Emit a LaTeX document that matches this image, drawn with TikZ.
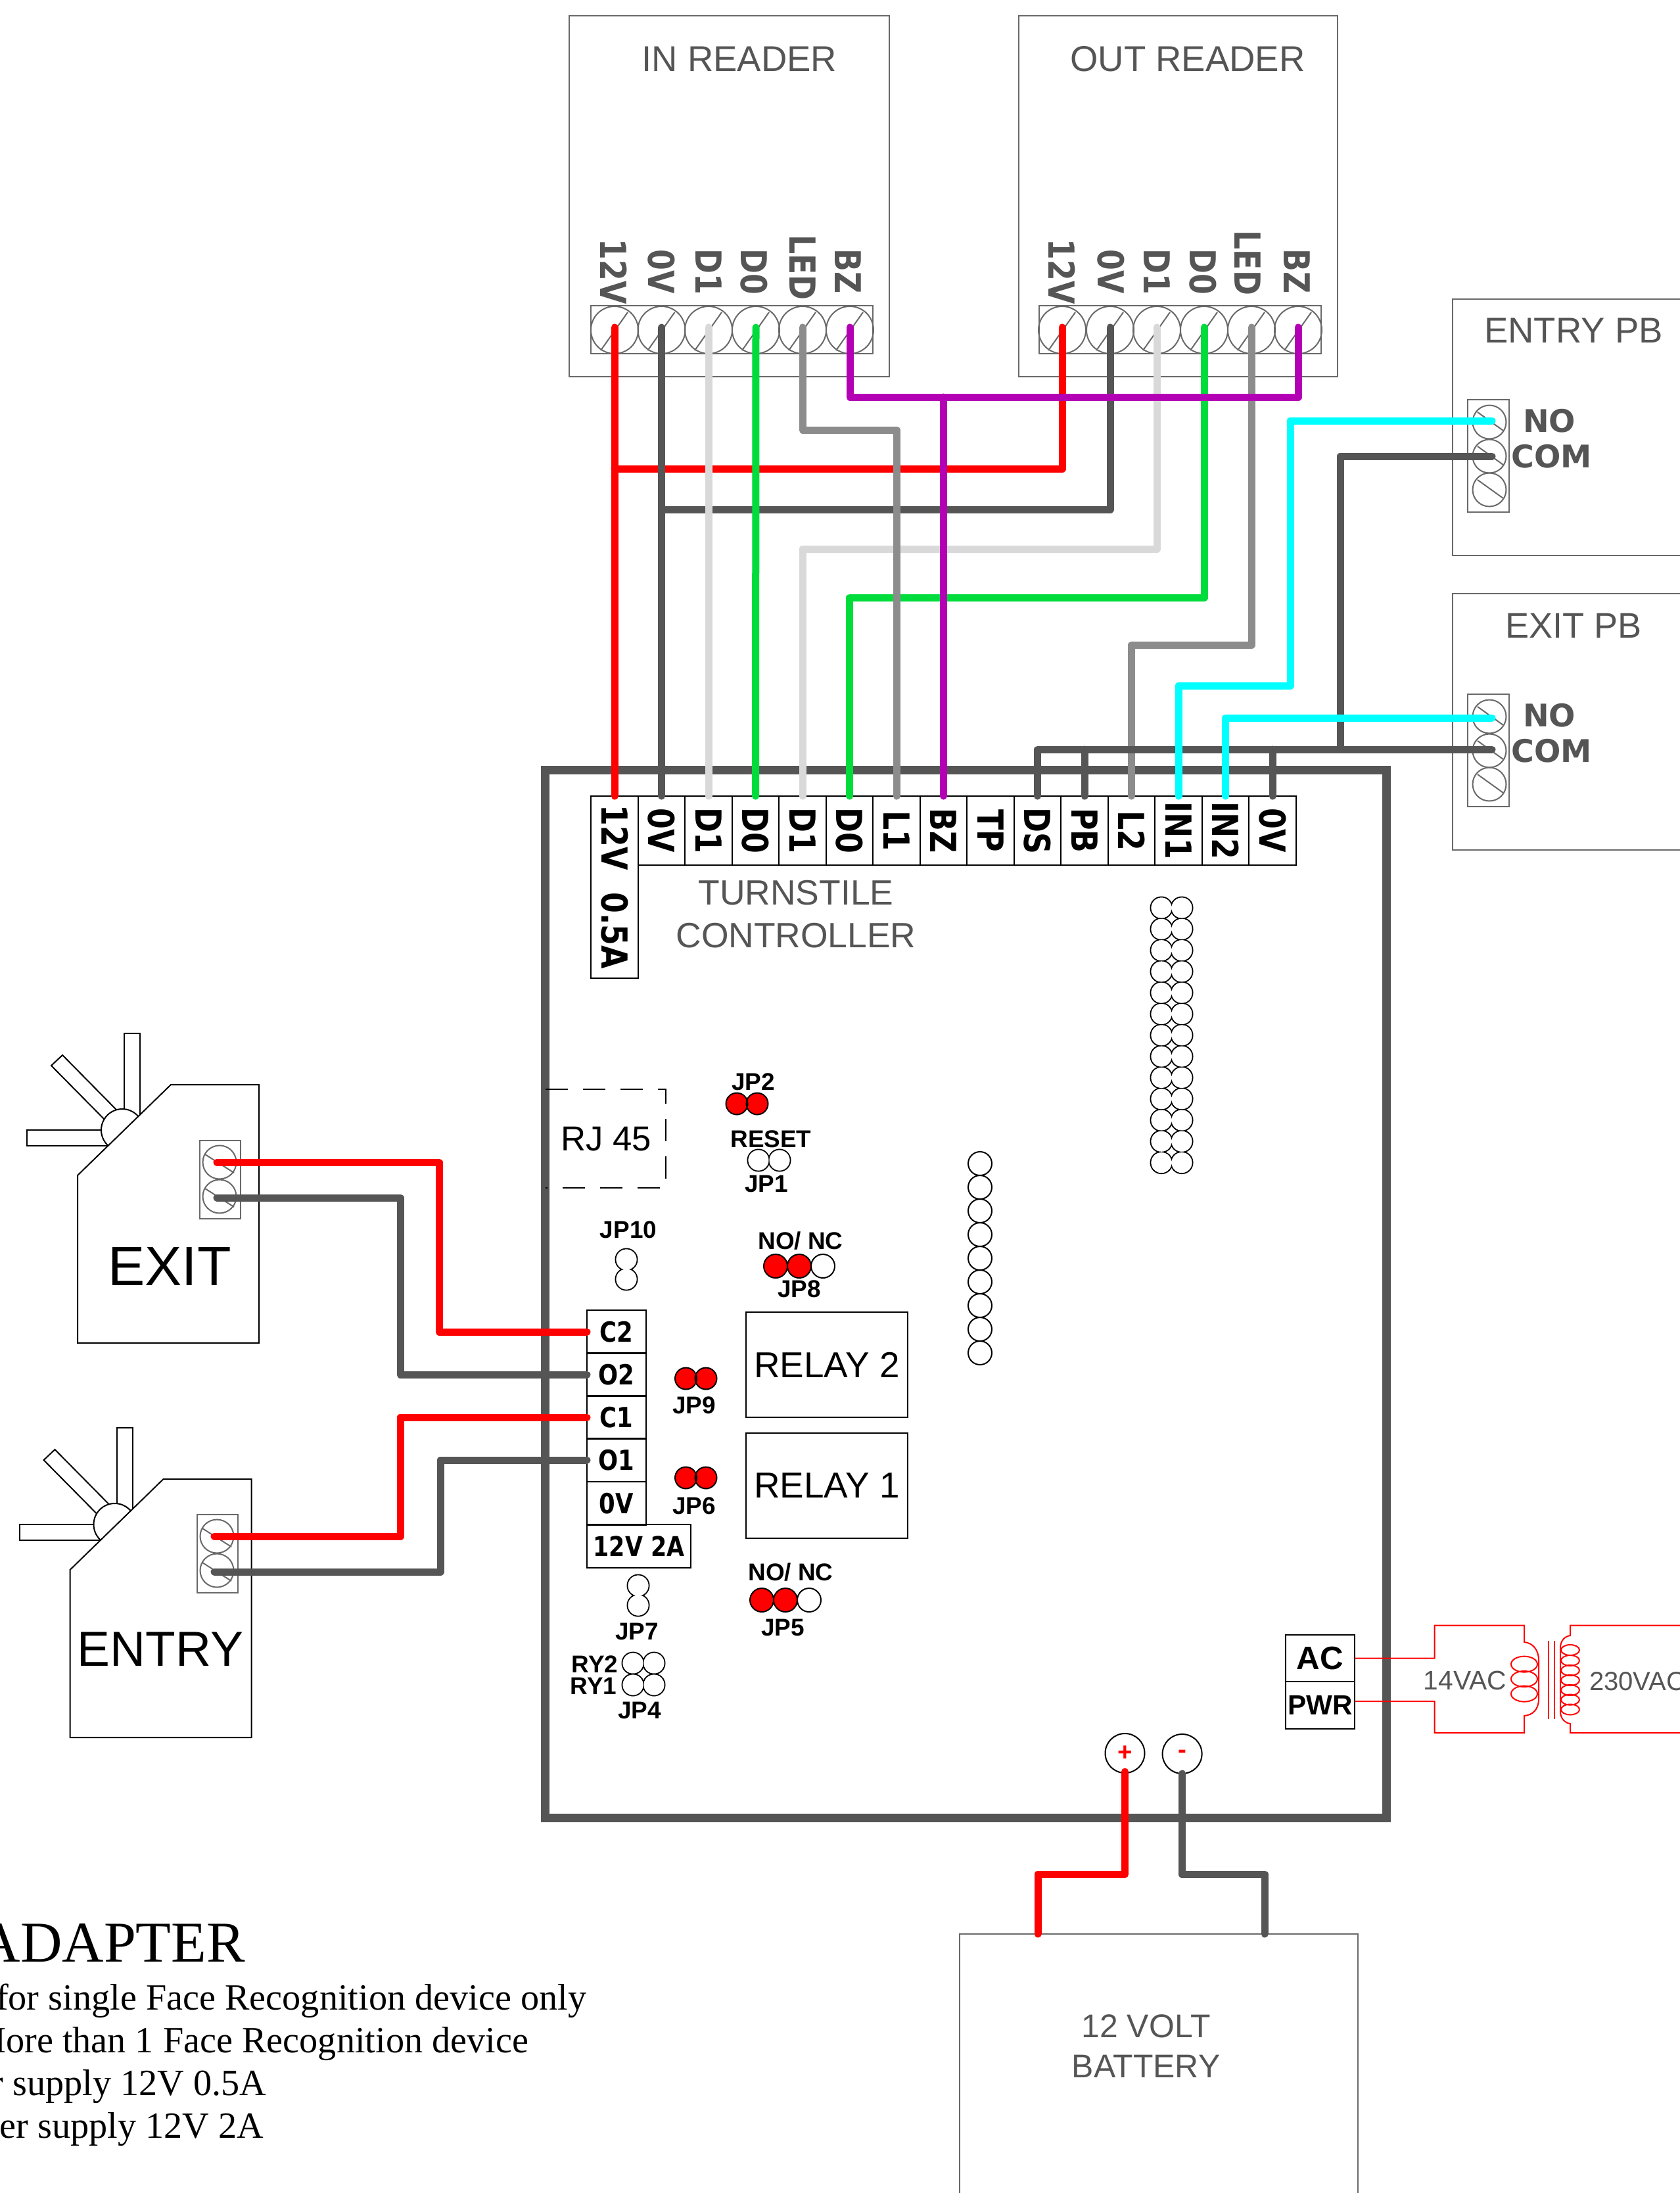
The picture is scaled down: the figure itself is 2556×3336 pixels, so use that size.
\documentclass[tikz,border=0pt]{standalone}
\usepackage{fontspec}
\setmainfont{Liberation Sans}
\newfontfamily\serifface{Liberation Serif}
\newfontfamily\termface{DejaVu Sans}[FakeStretch=0.84]
\newfontfamily\wideface{DejaVu Sans}
\usetikzlibrary{positioning, calc}
\definecolor{WireRed}{RGB}{255, 0, 0}
\definecolor{WireDark}{RGB}{85, 85, 85}
\definecolor{WireLight}{RGB}{217, 217, 217}
\definecolor{WireGreen}{RGB}{0, 220, 60}
\definecolor{WireMid}{RGB}{140, 140, 140}
\definecolor{WirePurple}{RGB}{180, 0, 180}
\definecolor{WireCyan}{RGB}{0, 255, 255}
\definecolor{BoxGray}{RGB}{105, 105, 105}
\newcommand{\pt}[1]{\fontsize{#1}{#1}\selectfont}
\newcommand{\pinpair}[4]{%
  \draw[pinline] (#1,#2) circle (16.5) (#3,#4) circle (16.5);
  \fill[white] (#1,#2) circle (15.5) (#3,#4) circle (15.5);}
\tikzset{
  every node/.style={inner sep=0pt, outer sep=0pt},
  wire/.style={line width=1.1mm, line cap=round, line join=round},
  thinbox/.style={draw=BoxGray, line width=0.2mm},
  blackbox/.style={draw=black, line width=0.2mm},
  title/.style={text=WireDark, font=\pt{15.2}},
  pintext/.style={font=\pt{10.5}\bfseries},
  screw/.style={circle, draw=BoxGray, line width=0.2mm},
  readertext/.style={rotate=-90, text=WireDark, font=\termface\pt{15.5}\bfseries},
  celltext/.style={blackbox, rotate=-90, minimum width=10.5mm, minimum height=7.15mm, font=\termface\pt{15.5}\bfseries},
  sidecell/.style={blackbox, minimum width=9mm, minimum height=6.52mm, font=\termface\pt{12}\bfseries},
  pinline/.style={draw=black, line width=0.2mm},
  pinon/.style={draw=black, fill=WireRed, line width=0.2mm},
  coil/.style={draw=WireRed, line width=0.2mm},
  notetext/.style={font=\serifface\pt{16}, anchor=base east}
}
\begin{document}
\begin{tikzpicture}[x=0.1mm,y=-0.1mm]
  \useasboundingbox (0,0) rectangle (2556,3336);
  % readers
  \node[thinbox, minimum width=48.7mm, minimum height=54.9mm] (inreader) at (1109.5,298.5) {};
  \node[thinbox, minimum width=48.5mm, minimum height=54.9mm] (outreader) at (1792.5,298.5) {};
  \node[title, font=\pt{15.5}] (intitle) at (1125,90) {IN READER};
  \node[title, font=\pt{15.5}] (outtitle) at (1807,90) {OUT READER};
  \node[thinbox, minimum width=42.9mm, minimum height=7.3mm] (instrip) at (1113.5,501.5) {};
  \node[thinbox, minimum width=42.9mm, minimum height=7.3mm] (outstrip) at (1795.5,501.5) {};
  \foreach \i/\sx/\lx/\ly/\txt in {1/935/934/413/12V,2/1006.5/1006/413/0V,3/1078/1078/413/D1,4/1150/1147/413/D0,5/1221/1221/407/LED,6/1293/1290/413/BZ}{
    \node[screw, minimum size=7.2mm] (inscrew\i) at (\sx,502) {};
    \draw[thinbox] (inscrew\i) ++(-21,31) -- ++(41,-58);
    \coordinate (inpin\i) at (\sx,498);
    \node[readertext] (inlabel\i) at (\lx,\ly) {\txt};
  }
  \foreach \i/\sx/\lx/\ly/\txt in {1/1616/1616/413/12V,2/1689/1690/413/0V,3/1760/1760/413/D1,4/1832/1830/413/D0,5/1904/1898/400/LED,6/1975/1973/413/BZ}{
    \node[screw, minimum size=7.2mm] (outscrew\i) at (\sx,502) {};
    \draw[thinbox] (outscrew\i) ++(-21,31) -- ++(41,-58);
    \coordinate (outpin\i) at (\sx,498);
    \node[readertext] (outlabel\i) at (\lx,\ly) {\txt};
  }

  % push buttons
  \node[thinbox, minimum width=58mm, minimum height=39mm] (entrypb) at (2500,650) {};
  \node[thinbox, minimum width=58mm, minimum height=39mm] (exitpb) at (2500,1097.5) {};
  \node[title, font=\pt{15.5}] (entrytitle) at (2394,503) {ENTRY PB};
  \node[title, font=\pt{15.4}] (exittitle) at (2394,952) {EXIT PB};
  \foreach \nm/\oy in {entry/0,exit/448}{
    \node[thinbox, minimum width=6.3mm, minimum height=17.1mm] (\nm strip) at (2264.5,693.5+\oy) {};
    \foreach \j/\sy in {1/642,2/694,3/745}{
      \node[screw, minimum size=5.1mm] (\nm screw\j) at (2266,\sy+\oy) {};
      \draw[thinbox] (\nm screw\j) ++(-18,-15) -- ++(39,28);
    }
    \node[font=\wideface\pt{13.5}\bfseries, text=WireDark] (\nm no) at (2357,640+\oy) {NO};
    \node[font=\wideface\pt{13.5}\bfseries, text=WireDark] (\nm com) at (2361,694+\oy) {COM};
  }
  \coordinate (entryno) at (2270,640);
  \coordinate (entrycommon) at (2270,694);
  \coordinate (exitno) at (2270,1092);
  \coordinate (exitcommon) at (2270,1140);

  % controller
  \draw[WireDark, line width=1.3mm] (829.5,1171.5) rectangle (2109.5,2765);
  \node[blackbox, rotate=-90, minimum width=27.7mm, minimum height=7.15mm, font=\termface\pt{15.5}\bfseries] (cell1) at (935,1349.5) {12V \hspace{5pt}0.5A};
  \foreach \i/\cx/\txt in {2/1006.5/0V,3/1078/D1,4/1149.5/D0,5/1221/D1,6/1292.5/D0,7/1364/L1,8/1435.5/BZ,9/1507/TP,10/1578.5/DS,11/1650/PB,12/1721.5/L2,13/1793/IN1,14/1864.5/IN2,15/1936/0V}{
    \node[celltext] (cell\i) at (\cx,1263.5) {\txt};
  }
  \node[title] (ctltitle) at (1211,1358) {TURNSTILE};
  \node[title] (ctltitletwo) at (1211,1423) {CONTROLLER};
  \draw[black, line width=0.2mm, dash pattern=on 3.4mm off 2.3mm] (830,1657) -- (1013,1657) -- (1013,1807) -- (830,1807);
  \node[font=\pt{15}] (rj45) at (922,1733) {RJ 45};

  % header pins
  \foreach \i in {0,...,12}{
    \draw[pinline] (1767,{1381+32.3*\i}) circle (16.5) (1798,{1381+32.3*\i}) circle (16.5);
  }
  \foreach \i in {0,...,12}{
    \fill[white] (1767,{1381+32.3*\i}) circle (15.5) (1798,{1381+32.3*\i}) circle (15.5);
  }
  \foreach \i in {0,...,8}{
    \draw[pinline] (1491,{1770+36*\i}) circle (18);
  }

  % jumpers
  \foreach \ax/\ay/\bx/\by in {1121/1679/1152/1679,1043.5/2097/1074/2097,1043.5/2248/1074/2248}{
    \filldraw[pinon] (\ax,\ay) circle (16.5) (\bx,\by) circle (16.5);
  }
  \foreach \ax/\ay/\bx/\by in {1154/1765/1186/1765,953/1916/953/1946,971/2412/971/2442,963/2530/995/2530,963/2563/995/2563}{
    \pinpair{\ax}{\ay}{\bx}{\by}
  }
  \foreach \ox/\oy in {1180/1926,1159/2434}{
    \draw[pinline] (\ox+72,\oy) circle (18);
    \filldraw[pinon] (\ox,\oy) circle (18) (\ox+36,\oy) circle (18);
  }
  \foreach \nm/\lx/\ly/\txt in {jp2/1146/1646/JP2,reset/1173/1733/RESET,jp1/1166/1801/JP1,jp10/956/1871/JP10,jp8/1216/1961/JP8,jp9/1056/2138/JP9,jp6/1056/2291/JP6,jp5/1191/2476/JP5,jp7/969/2482/JP7,ry2/905/2532/RY2,ry1/903/2565/RY1,jp4/973/2602/JP4}{
    \node[pintext] (\nm) at (\lx,\ly) {\txt};
  }
  \node[pintext] (nonctop) at (1218,1887) {NO/ NC};
  \node[pintext] (noncbot) at (1203,2391) {NO/ NC};

  % relays
  \node[blackbox, minimum width=24.6mm, minimum height=16mm, font=\pt{15.6}] (relaytwo) at (1258,2076) {RELAY 2};
  \node[blackbox, minimum width=24.6mm, minimum height=16mm, font=\pt{15.6}] (relayone) at (1258,2260) {RELAY 1};

  % relay terminals
  \foreach \nm/\cy/\txt in {c2/2026/C2,o2/2091/O2,c1/2156/C1,o1/2221/O1,zv/2287/0V}{
    \node[sidecell] (\nm) at (938,\cy) {\txt};
  }
  \node[blackbox, minimum width=15.8mm, minimum height=6.6mm, font=\termface\pt{11.8}\bfseries] (twelvetwo) at (972,2352) {12V 2A};

  % turnstiles
  \foreach \dx/\dy in {0/0,-11.5/600}{
    \begin{scope}[shift={(\dx,\dy)}]
      \draw[blackbox] (189,1572) rectangle (213,1700);
      \draw[blackbox] (78,1621) -- (95,1605) -- (177,1688) -- (160,1704) -- cycle;
      \draw[blackbox] (41,1719) rectangle (170,1743);
      \filldraw[blackbox, fill=white] (186,1719) circle (32);
      \filldraw[blackbox, fill=white] (118,1788) -- (260,1650) -- (394,1650) -- (394,2043) -- (118,2043) -- cycle;
    \end{scope}
  }
  \node[font=\pt{24}] (exittext) at (258,1926) {EXIT};
  \node[font=\pt{21.3}] (entrytext) at (244,2509) {ENTRY};
  \foreach \nm/\sx/\sa/\sb in {exit/334/1768/1820,entry/330/2337/2389}{
    \node[thinbox, minimum width=6.2mm, minimum height=11.9mm] (\nm box) at (\sx+1,{(\sa+\sb)/2}) {};
    \node[screw, minimum size=5.1mm] (\nm a) at (\sx,\sa) {};
    \node[screw, minimum size=5.1mm] (\nm b) at (\sx,\sb) {};
    \draw[thinbox] (\nm a) ++(-22,-12) -- ++(44,28);
    \draw[thinbox] (\nm b) ++(-22,-12) -- ++(44,28);
    \coordinate (\nm pina) at (\sx-4,\sa);
    \coordinate (\nm pinb) at (\sx-4,\sb+2);
  }

  % power
  \node[blackbox, minimum width=10.5mm, minimum height=7.1mm, font=\pt{14}\bfseries] (acbox) at (2008.5,2522.5) {AC};
  \node[blackbox, minimum width=10.5mm, minimum height=7.2mm, font=\pt{12}\bfseries] (pwrbox) at (2008.5,2594) {PWR};
  \node[font=\pt{11.6}, text=WireDark] (lowvac) at (2229,2556) {14VAC};
  \node[font=\pt{11.4}, text=WireDark, anchor=west] (highvac) at (2418,2558) {230VAC};
  \draw[coil] (acbox.east) -- (2182.6,2522.5) -- (2182.6,2472.6) -- (2319,2472.6) -- (2319,2498)
    .. controls (2332,2499) and (2341,2510) .. (2341,2525) -- (2341,2585)
    .. controls (2341,2600) and (2332,2609) .. (2319,2610)
    -- (2319,2636) -- (2182.6,2636) -- (2182.6,2588) -- (pwrbox.east |- 0,2588);
  \foreach \cy in {2531.6,2554,2576.6}{
    \draw[coil] (2319,\cy) ellipse (20 and 12);
  }
  \draw[coil] (2356,2496) -- (2356,2615);
  \draw[coil] (2365,2496) -- (2365,2615);
  \draw[coil] (2600,2472.6) -- (2389,2472.6) -- (2389,2488)
    .. controls (2380,2489) and (2374,2497) .. (2374,2506) -- (2374,2604)
    .. controls (2374,2613) and (2380,2621) .. (2389,2622)
    -- (2389,2636) -- (2600,2636);
  \foreach \cy in {2510,2526,2541,2556,2571,2585.6,2600.5}{
    \draw[coil] (2389,\cy) ellipse (14 and 8);
  }
  \node[circle, blackbox, minimum size=6mm, text=WireRed, font=\pt{11}\bfseries] (plus) at (1711.5,2667) {+};
  \node[circle, blackbox, minimum size=6mm, text=WireRed, font=\pt{11}\bfseries] (minus) at (1798.6,2668) {-};
  \coordinate (pluspin) at (1711.5,2695);
  \coordinate (minuspin) at (1798.6,2698);
  \node[thinbox, minimum width=60.6mm, minimum height=60mm] (battery) at (1763,3242) {};
  \node[title, font=\pt{14.2}] (batterytext) at (1743.6,3082) {12 VOLT};
  \node[title, font=\pt{14.2}] (batterytexttwo) at (1743.6,3143) {BATTERY};

  % wires, horizontals first
  \draw[wire, WireRed] (outpin1) |- (inpin1 |- 0,713);
  \draw[wire, WireDark] (outpin2) |- (inpin2 |- 0,775);
  \draw[wire, WireLight] (outpin3) |- (cell5.west |- 0,835) -- (cell5.west);
  \draw[wire, WireGreen] (outpin4) |- (cell6.west |- 0,909) -- (cell6.west);
  \draw[wire, WireMid] (outpin5) |- (cell12.west |- 0,981) -- (cell12.west);
  \draw[wire, WireRed] (inpin1) -- (cell1.west);
  \draw[wire, WireDark] (inpin2) -- (cell2.west);
  \draw[wire, WireLight] (inpin3) -- (cell3.west);
  \draw[wire, WireGreen] (inpin4) -- (cell4.west);
  \draw[wire, WireMid] (inpin5) |- (cell7.west |- 0,654) -- (cell7.west);
  \draw[wire, WirePurple] (inpin6) -- (inpin6 |- 0,604) -- (outpin6 |- 0,604) -- (outpin6);
  \draw[wire, WirePurple] (cell8.west |- 0,604) -- (cell8.west);
  \draw[wire, WireDark] (entrycommon) -| (2039,1140);
  \draw[wire, WireDark] (cell10.west) |- (exitcommon);
  \draw[wire, WireDark] (cell11.west) -- (cell11.west |- 0,1140);
  \draw[wire, WireDark] (cell15.west) -- (cell15.west |- 0,1140);
  \draw[wire, WireCyan] (cell13.west) -- (cell13.west |- 0,1043) -| (1963,640) -- (entryno);
  \draw[wire, WireCyan] (cell14.west) |- (exitno);
  \draw[wire, WireRed] (exitpina) -| (668,2026) -- (c2.west);
  \draw[wire, WireDark] (exitpinb) -| (609,2091) -- (o2.west);
  \draw[wire, WireRed] (entrypina) -| (609,2156) -- (c1.west);
  \draw[wire, WireDark] (entrypinb) -| (670,2221) -- (o1.west);
  \draw[wire, WireRed] (pluspin) |- (1579,2851) -- (1579,2942);
  \draw[wire, WireDark] (minuspin) |- (1924,2851) -- (1924,2942);

  % notes
  \node[anchor=base east, font=\serifface\pt{25}] (notetitle) at (373,2984) {ADAPTER};
  \node[notetext] (noteone) at (892,3057) {for single Face Recognition device only};
  \node[notetext] (notetwo) at (804,3122) {More than 1 Face Recognition device};
  \node[notetext] (notethree) at (405,3187) {er supply 12V 0.5A};
  \node[notetext] (notefour) at (401,3252) {er supply 12V 2A};
\end{tikzpicture}
\end{document}
